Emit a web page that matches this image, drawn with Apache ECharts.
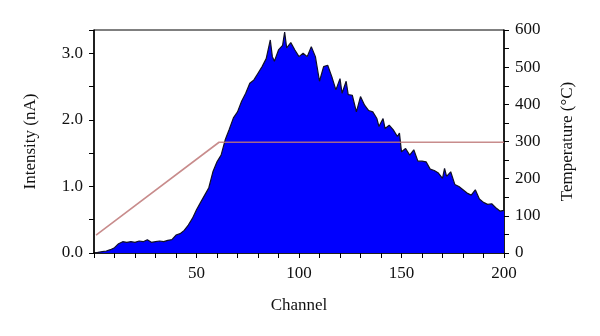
<!DOCTYPE html>
<html>
<head>
<meta charset="utf-8">
<script src="https://cdn.jsdelivr.net/npm/echarts@6/dist/echarts.min.js"></script>
<style>html,body{margin:0;padding:0;background:#fff}#c{width:600px;height:336px}</style>
</head>
<body>
<div id="c"></div>
<script>
var channels = [1,2,4,6,8,10,12,14,16,18,20,22,24,26,28,30,32,34,36,38,40,42,44,46,48,50,52,54,56,58,60,62,64,66,68,70,72,74,76,78,80,82,84,86,87,88,90,92,93,94,96,98,100,102,104,106,108,110,112,114,116,118,120,121,123,124,126,128,130,132,134,136,138,139,141,142,144,146,148,149,150,152,154,156,158,160,162,164,166,168,170,171,172,174,176,178,180,182,184,186,188,190,192,194,196,198,200];
var intensity = [0.00,0.01,0.02,0.03,0.05,0.08,0.14,0.17,0.16,0.17,0.16,0.18,0.17,0.20,0.16,0.17,0.18,0.17,0.19,0.20,0.27,0.29,0.34,0.42,0.52,0.65,0.76,0.87,0.98,1.22,1.37,1.47,1.70,1.86,2.03,2.12,2.28,2.40,2.55,2.60,2.70,2.80,2.92,3.20,2.95,2.88,3.05,3.12,3.32,3.08,3.16,3.05,2.95,3.00,2.95,3.10,2.95,2.58,2.80,2.82,2.65,2.45,2.62,2.40,2.58,2.38,2.37,2.12,2.35,2.22,2.14,2.12,2.02,1.90,2.02,1.87,1.92,1.85,1.75,1.80,1.52,1.57,1.47,1.55,1.38,1.38,1.37,1.26,1.24,1.20,1.12,1.27,1.15,1.22,1.03,1.00,0.95,0.90,0.87,0.95,0.81,0.76,0.73,0.74,0.68,0.63,0.64];
var tempChannels = [1, 61, 200];
var temperature = [48, 298, 298];

var font = '"Liberation Serif", "DejaVu Serif", serif';
var chart = echarts.init(document.getElementById('c'), null, {renderer: 'canvas'});
var intData = channels.map(function (c, i) { return [c, intensity[i]]; });
var tData = tempChannels.map(function (c, i) { return [c, temperature[i]]; });

chart.setOption({
  animation: false,
  grid: {left: 94, right: 96, top: 30, bottom: 83, show: true, borderColor: '#000', borderWidth: 1, backgroundColor: 'transparent'},
  xAxis: {
    type: 'value', min: 0, max: 200, interval: 10,
    name: 'Channel', nameLocation: 'middle', nameGap: 44,
    nameTextStyle: {fontFamily: font, fontSize: 17, color: '#111'},
    axisLine: {show: true, lineStyle: {color: '#000', width: 1.5}},
    axisTick: {show: true, length: 5, lineStyle: {color: '#000'}},
    splitLine: {show: false},
    axisLabel: {margin: 12, fontFamily: font, fontSize: 17, color: '#111',
      formatter: function (v) { return (v > 0 && v % 50 === 0) ? String(v) : ''; }}
  },
  yAxis: [{
    type: 'value', min: 0, max: 3.35, interval: 0.5, position: 'left',
    name: 'Intensity (nA)', nameLocation: 'middle', nameGap: 55, nameRotate: 90,
    nameTextStyle: {fontFamily: font, fontSize: 17, color: '#111'},
    axisLine: {show: true, lineStyle: {color: '#000', width: 1.5}},
    axisTick: {show: true, length: 5, lineStyle: {color: '#000'}},
    splitLine: {show: false},
    axisLabel: {margin: 11, fontFamily: font, fontSize: 17, color: '#111',
      formatter: function (v) { return Math.abs(v - Math.round(v)) < 1e-6 ? v.toFixed(1) : ''; }}
  }, {
    type: 'value', min: 0, max: 600, interval: 50, position: 'right',
    name: 'Temperature (°C)', nameLocation: 'middle', nameGap: 55, nameRotate: 90,
    nameTextStyle: {fontFamily: font, fontSize: 17, color: '#111'},
    axisLine: {show: true, lineStyle: {color: '#000', width: 1.5}},
    axisTick: {show: true, length: 5, lineStyle: {color: '#000'}},
    splitLine: {show: false},
    axisLabel: {margin: 11, fontFamily: font, fontSize: 17, color: '#111',
      formatter: function (v) { return v % 100 === 0 ? String(v) : ''; }}
  }],
  series: [{
    type: 'line', data: intData, yAxisIndex: 0, showSymbol: false, symbol: 'none',
    lineStyle: {color: '#101028', width: 1.2},
    areaStyle: {color: '#0000ff', opacity: 1},
    z: 2
  }, {
    type: 'line', data: tData, yAxisIndex: 1, showSymbol: false, symbol: 'none',
    lineStyle: {color: 'rgba(190,120,120,0.85)', width: 1.6},
    z: 3
  }]
});
</script>
</body>
</html>
